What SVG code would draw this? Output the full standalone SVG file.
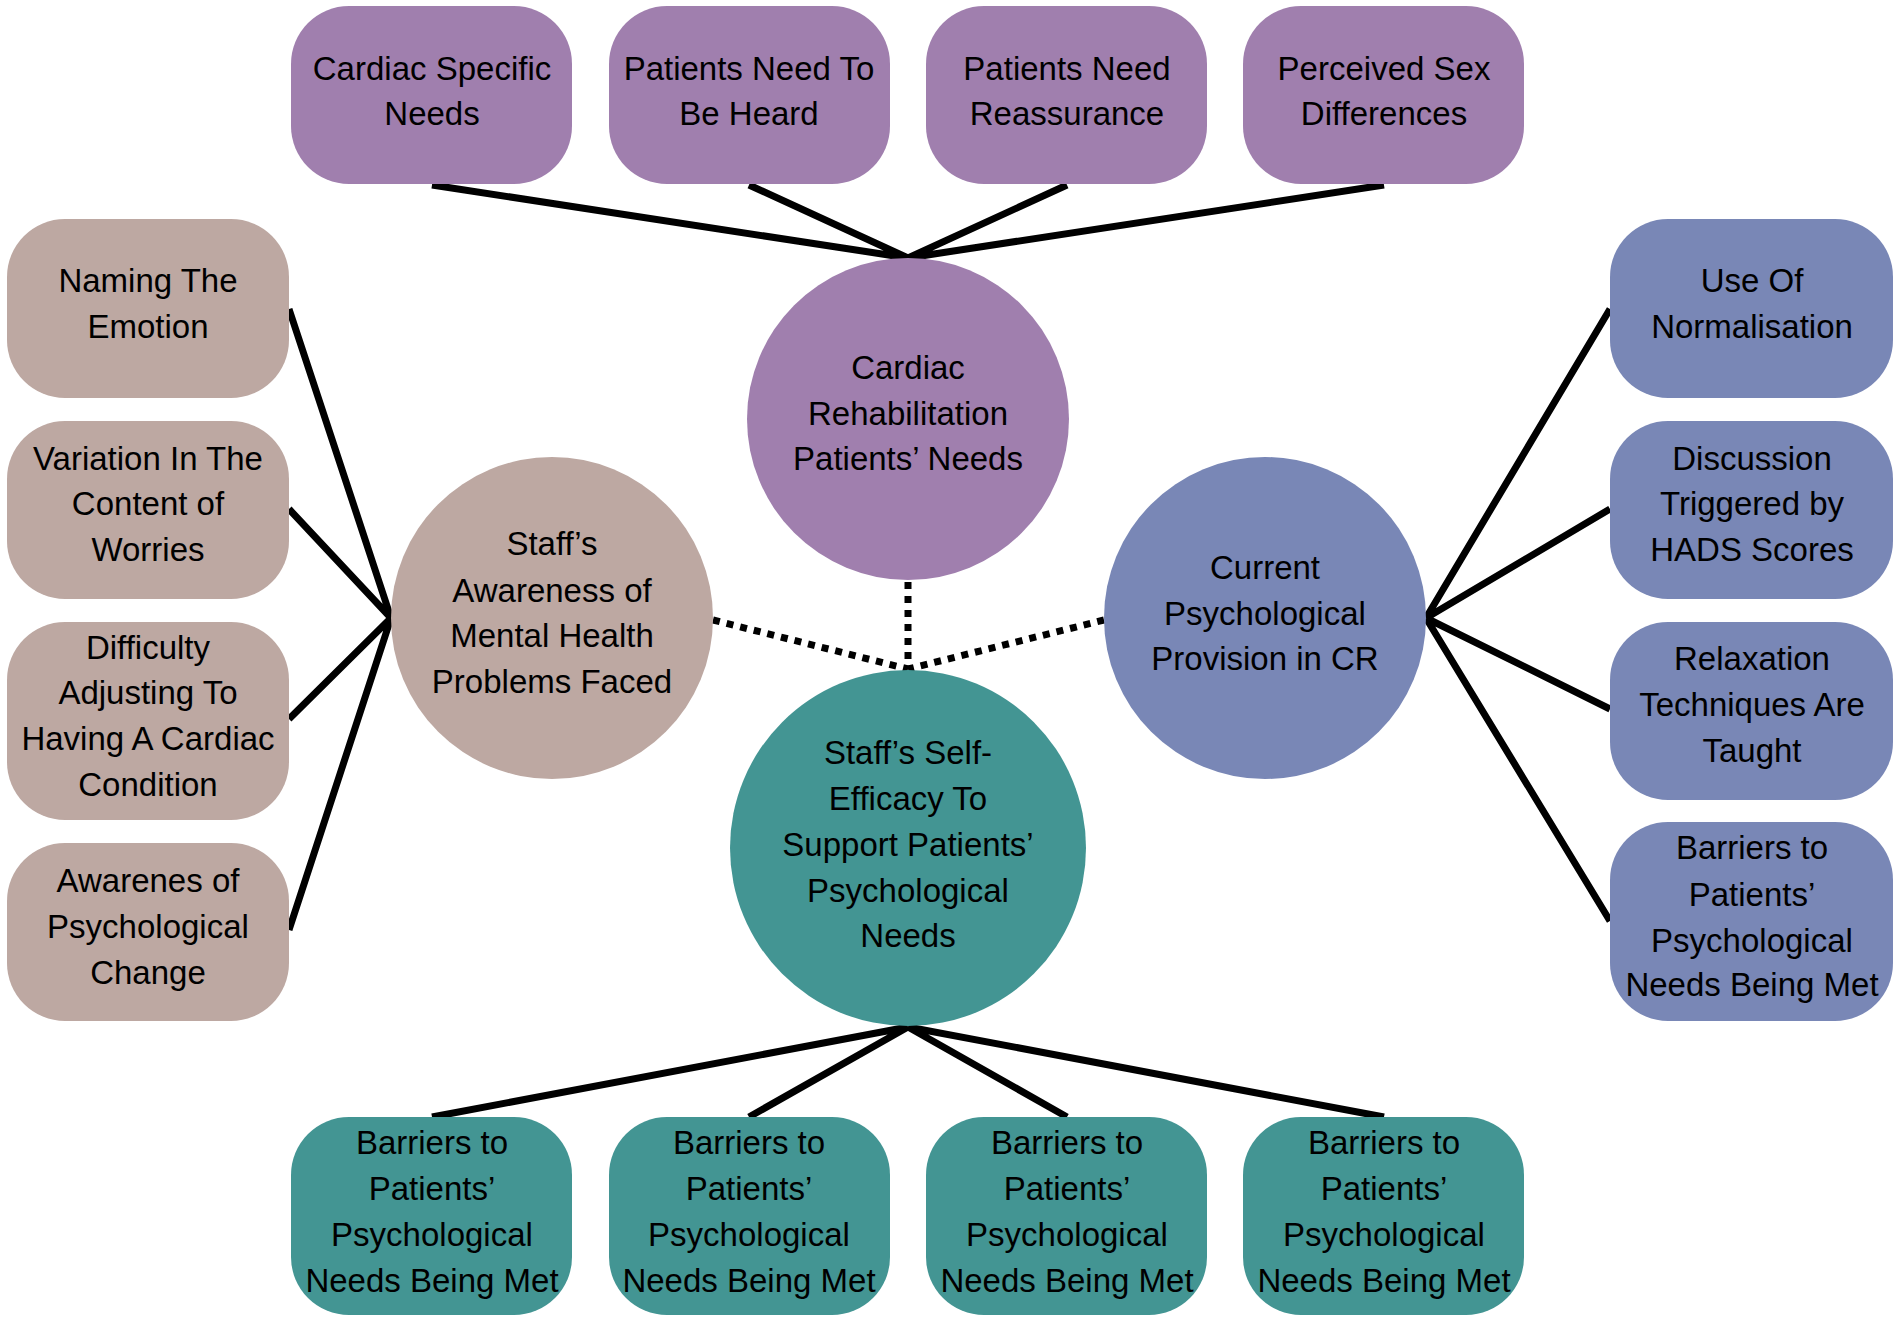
<svg xmlns="http://www.w3.org/2000/svg" width="1901" height="1324" viewBox="0 0 1901 1324">
<style>
text{font-family:"Liberation Sans",Arial,sans-serif;font-size:33px;fill:#000;text-anchor:middle}
.p{fill:#A07FAE}.t{fill:#BDA8A2}.b{fill:#7987B6}.g{fill:#439593}
.solid{stroke:#000;stroke-width:7;fill:none}
.dot{stroke:#000;stroke-width:7;stroke-dasharray:7 7;fill:none}
</style>
<rect width="1901" height="1324" fill="#fff"/>
<g id="connectors">
<path class="solid" d="M432 185L908 258M749 185L908 258M1067 185L908 258M1384 185L908 258"/>
<path class="solid" d="M289 309L391 618M289 509L391 618M289 719L391 618M289 930L391 618"/>
<path class="solid" d="M1610 309L1426 618M1610 509L1426 618M1610 709L1426 618M1610 921L1426 618"/>
<path class="solid" d="M908 1027L432 1117M908 1027L749 1117M908 1027L1067 1117M908 1027L1384 1117"/>
<path class="dot" d="M908 582L908 669M713 620L908 669M1104 620L908 669"/>
</g>
<g id="n-cardiac-specific"><rect class="p" x="291" y="6" width="281" height="178" rx="58"/><text x="432" y="80">Cardiac Specific</text><text x="432" y="125">Needs</text></g>
<g id="n-heard"><rect class="p" x="609" y="6" width="281" height="178" rx="58"/><text x="749" y="80">Patients Need To</text><text x="749" y="125">Be Heard</text></g>
<g id="n-reassurance"><rect class="p" x="926" y="6" width="281" height="178" rx="58"/><text x="1067" y="80">Patients Need</text><text x="1067" y="125">Reassurance</text></g>
<g id="n-sex"><rect class="p" x="1243" y="6" width="281" height="178" rx="58"/><text x="1384" y="80">Perceived Sex</text><text x="1384" y="125">Differences</text></g>

<g id="n-naming"><rect class="t" x="7" y="219" width="282" height="179" rx="58"/><text x="148" y="292">Naming The</text><text x="148" y="338">Emotion</text></g>
<g id="n-variation"><rect class="t" x="7" y="421" width="282" height="178" rx="58"/><text x="148" y="470">Variation In The</text><text x="148" y="515">Content of</text><text x="148" y="561">Worries</text></g>
<g id="n-difficulty"><rect class="t" x="7" y="622" width="282" height="198" rx="58"/><text x="148" y="659">Difficulty</text><text x="148" y="704">Adjusting To</text><text x="148" y="750">Having A Cardiac</text><text x="148" y="796">Condition</text></g>
<g id="n-awarenes"><rect class="t" x="7" y="843" width="282" height="178" rx="58"/><text x="148" y="892">Awarenes of</text><text x="148" y="938">Psychological</text><text x="148" y="984">Change</text></g>

<g id="n-normalisation"><rect class="b" x="1610" y="219" width="283" height="179" rx="58"/><text x="1752" y="292">Use Of</text><text x="1752" y="338">Normalisation</text></g>
<g id="n-hads"><rect class="b" x="1610" y="421" width="283" height="178" rx="58"/><text x="1752" y="470">Discussion</text><text x="1752" y="515">Triggered by</text><text x="1752" y="561">HADS Scores</text></g>
<g id="n-relaxation"><rect class="b" x="1610" y="622" width="283" height="178" rx="58"/><text x="1752" y="670">Relaxation</text><text x="1752" y="716">Techniques Are</text><text x="1752" y="762">Taught</text></g>
<g id="n-barriers-r"><rect class="b" x="1610" y="822" width="283" height="199" rx="58"/><text x="1752" y="859">Barriers to</text><text x="1752" y="906">Patients’</text><text x="1752" y="952">Psychological</text><text x="1752" y="996">Needs Being Met</text></g>

<g id="n-crpn"><circle class="p" cx="908" cy="419" r="161"/><text x="908" y="379">Cardiac</text><text x="908" y="425">Rehabilitation</text><text x="908" y="470">Patients’ Needs</text></g>
<g id="n-awareness"><circle class="t" cx="552" cy="618" r="161"/><text x="552" y="555">Staff’s</text><text x="552" y="602">Awareness of</text><text x="552" y="647">Mental Health</text><text x="552" y="693">Problems Faced</text></g>
<g id="n-provision"><circle class="b" cx="1265" cy="618" r="161"/><text x="1265" y="579">Current</text><text x="1265" y="625">Psychological</text><text x="1265" y="670">Provision in CR</text></g>
<g id="n-selfefficacy"><circle class="g" cx="908" cy="848" r="178"/><text x="908" y="764">Staff’s Self-</text><text x="908" y="810">Efficacy To</text><text x="908" y="856">Support Patients’</text><text x="908" y="902">Psychological</text><text x="908" y="947">Needs</text></g>

<g id="n-barriers-1"><rect class="g" x="291" y="1117" width="281" height="198" rx="58"/><text x="432" y="1154">Barriers to</text><text x="432" y="1200">Patients’</text><text x="432" y="1246">Psychological</text><text x="432" y="1292">Needs Being Met</text></g>
<g id="n-barriers-2"><rect class="g" x="609" y="1117" width="281" height="198" rx="58"/><text x="749" y="1154">Barriers to</text><text x="749" y="1200">Patients’</text><text x="749" y="1246">Psychological</text><text x="749" y="1292">Needs Being Met</text></g>
<g id="n-barriers-3"><rect class="g" x="926" y="1117" width="281" height="198" rx="58"/><text x="1067" y="1154">Barriers to</text><text x="1067" y="1200">Patients’</text><text x="1067" y="1246">Psychological</text><text x="1067" y="1292">Needs Being Met</text></g>
<g id="n-barriers-4"><rect class="g" x="1243" y="1117" width="281" height="198" rx="58"/><text x="1384" y="1154">Barriers to</text><text x="1384" y="1200">Patients’</text><text x="1384" y="1246">Psychological</text><text x="1384" y="1292">Needs Being Met</text></g>
</svg>
